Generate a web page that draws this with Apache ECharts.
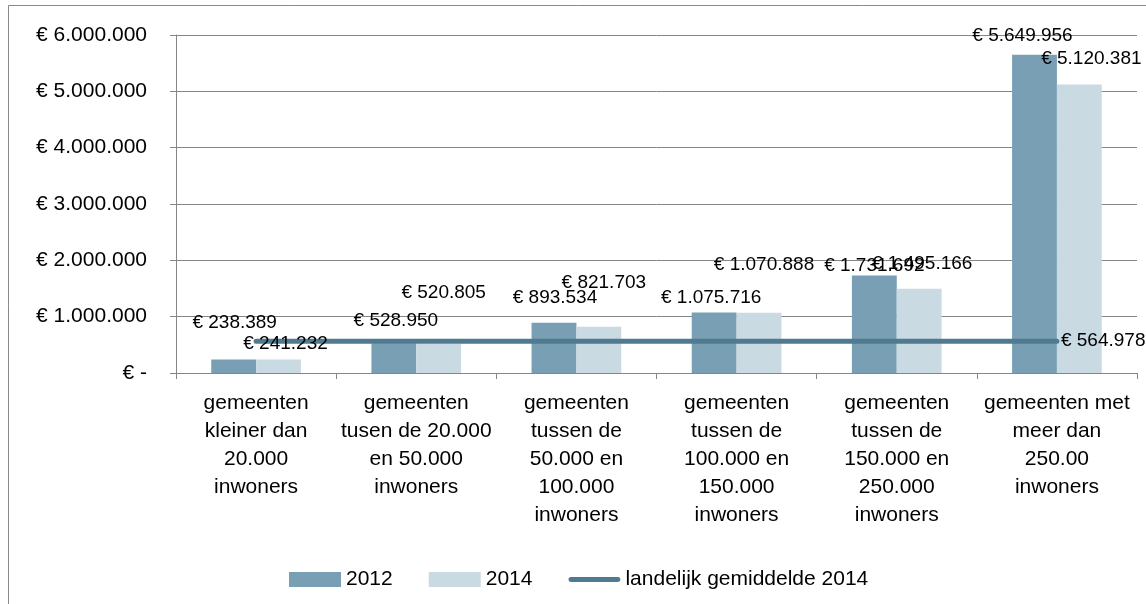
<!DOCTYPE html>
<html>
<head>
<meta charset="utf-8">
<script src="https://cdn.jsdelivr.net/npm/echarts@6/dist/echarts.min.js"></script>
<style>
  html, body { margin: 0; padding: 0; background: #fff; }
  #chart { width: 1146px; height: 604px; }
</style>
</head>
<body>
<div id="chart"></div>
<script>
const categories = [
  'gemeenten\nkleiner dan\n20.000\ninwoners',
  'gemeenten\ntusen de 20.000\nen 50.000\ninwoners',
  'gemeenten\ntussen de\n50.000 en\n100.000\ninwoners',
  'gemeenten\ntussen de\n100.000 en\n150.000\ninwoners',
  'gemeenten\ntussen de\n150.000 en\n250.000\ninwoners',
  'gemeenten met\nmeer dan\n250.00\ninwoners'
]
const values2012 = [238389, 528950, 893534, 1075716, 1731692, 5649956]
const values2014 = [241232, 520805, 821703, 1070888, 1495166, 5120381]
const average2014 = 564978
const yTicks = [0, 1000000, 2000000, 3000000, 4000000, 5000000, 6000000]

// label offsets (the labels were dragged by hand in the original)
const offsets2012 = [[1, -27], [2, -13], [1, -15], [-3, -5], [0, 0], [-12, -9]]
const offsets2014 = [[7, -6], [5, -41], [5, -34], [5, -38], [3, -16], [12, -16]]

const FONT = 'Liberation Sans'

function euro(v) {
  if (v === 0) return '€ -'
  return '€ ' + String(Math.round(v)).replace(/\B(?=(\d{3})+(?!\d))/g, '.')
}

const chart = echarts.init(document.getElementById('chart'))

// zero-height bars stacked on top of the real ones, only there to carry
// the value labels above the average line
function labelSeries(name, values, offsets) {
  return {
    name: name + ' label',
    type: 'bar',
    stack: name,
    z: 6,
    barGap: '0%',
    barCategoryGap: '44%',
    itemStyle: { color: 'rgba(0,0,0,0)' },
    data: values.map((v, i) => ({ value: 0, label: { offset: offsets[i] } })),
    label: {
      show: true,
      position: 'top',
      distance: 0,
      fontFamily: FONT,
      fontSize: 19,
      color: '#000',
      formatter: p => euro(values[p.dataIndex])
    },
    silent: true
  }
}

const option = {
  backgroundColor: '#fff',
  animation: false,
  textStyle: { fontFamily: FONT, color: '#000' },
  graphic: [{
    type: 'rect',
    shape: { x: 8.5, y: 5.5, width: 1145, height: 620 },
    style: { fill: 'none', stroke: '#8a8a8a', lineWidth: 1 },
    silent: true
  }],
  grid: { left: 176, right: 9, top: 35, bottom: 231 },
  legend: {
    left: 284,
    top: 564,
    itemWidth: 52,
    itemHeight: 15,
    itemGap: 36,
    textStyle: { fontFamily: FONT, fontSize: 21, color: '#000' },
    data: [
      { name: '2012', icon: 'rect' },
      { name: '2014', icon: 'rect' },
      { name: 'landelijk gemiddelde 2014', icon: 'path://M2,0 L50,0 A2.5,2.5 0 0 1 50,5 L2,5 A2.5,2.5 0 0 1 2,0 Z' }
    ]
  },
  xAxis: {
    type: 'category',
    data: categories,
    axisLine: { lineStyle: { color: '#868686', width: 1 } },
    axisTick: { show: true, length: 6, lineStyle: { color: '#868686' } },
    axisLabel: {
      interval: 0,
      fontFamily: FONT,
      fontSize: 21,
      lineHeight: 28,
      color: '#000',
      margin: 16,
      align: 'center'
    }
  },
  yAxis: {
    type: 'value',
    min: 0,
    max: 6000000,
    interval: 1000000,
    axisLine: { show: true, lineStyle: { color: '#868686', width: 1 } },
    axisTick: { show: true, length: 6, lineStyle: { color: '#868686' } },
    splitLine: { lineStyle: { color: '#868686', width: 1 } },
    axisLabel: {
      fontFamily: FONT,
      fontSize: 21,
      color: '#000',
      margin: 29,
      formatter: v => yTicks.includes(v) ? euro(v) : ''
    }
  },
  series: [
    {
      name: '2012',
      type: 'bar',
      stack: '2012',
      data: values2012,
      barGap: '0%',
      barCategoryGap: '44%',
      itemStyle: { color: '#789fb4' }
    },
    {
      name: '2014',
      type: 'bar',
      stack: '2014',
      data: values2014,
      barGap: '0%',
      barCategoryGap: '44%',
      itemStyle: { color: '#c9dae2' }
    },
    labelSeries('2012', values2012, offsets2012),
    labelSeries('2014', values2014, offsets2014),
    {
      name: 'landelijk gemiddelde 2014',
      type: 'line',
      data: categories.map(() => average2014),
      symbol: 'none',
      z: 3,
      lineStyle: { color: '#4f7b90', width: 5, cap: 'round' },
      itemStyle: { color: '#4f7b90' },
      endLabel: {
        show: true,
        fontFamily: FONT,
        fontSize: 19,
        color: '#000',
        distance: 4,
        formatter: p => euro(p.value)
      }
    }
  ]
}

chart.setOption(option)
</script>
</body>
</html>
